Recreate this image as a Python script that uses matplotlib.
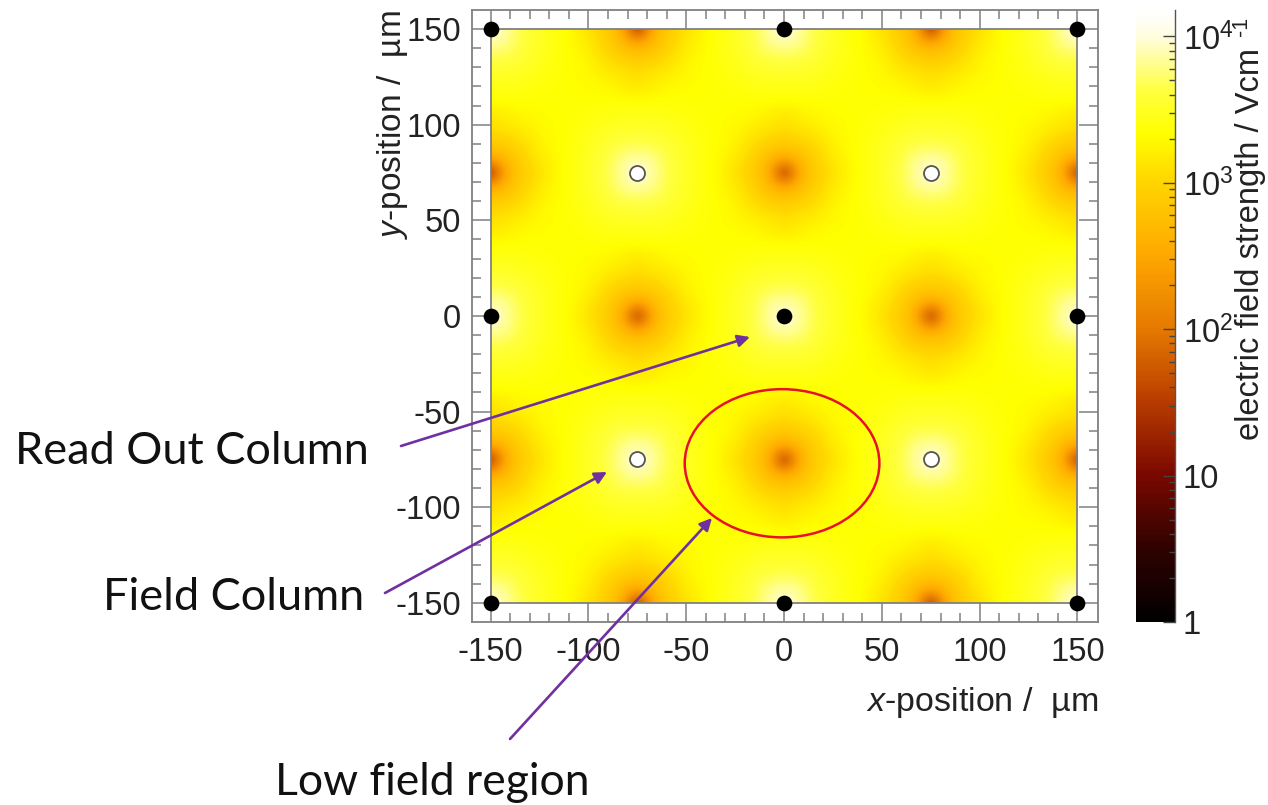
import numpy as np
import matplotlib
matplotlib.use("Agg")
import matplotlib.pyplot as plt
from matplotlib.colors import LinearSegmentedColormap, Normalize, LogNorm
from matplotlib.cm import ScalarMappable
from matplotlib.patches import Ellipse, Rectangle

W, H = 1268, 805

# log10(field strength) read on one unit cell, x and y = 0 ... 75 um
cell_step = 6.25
cell_log_field = [
    [4.00, 3.90, 3.72, 3.60, 3.50, 3.42, 3.35, 3.25, 3.10, 2.98, 2.80, 2.40, 1.25],
    [3.90, 3.85, 3.70, 3.58, 3.50, 3.42, 3.35, 3.27, 3.15, 3.02, 2.86, 2.60, 2.40],
    [3.72, 3.70, 3.65, 3.56, 3.48, 3.42, 3.36, 3.30, 3.22, 3.08, 2.96, 2.86, 2.80],
    [3.60, 3.58, 3.56, 3.50, 3.45, 3.40, 3.36, 3.32, 3.27, 3.16, 3.08, 3.02, 2.98],
    [3.50, 3.50, 3.48, 3.45, 3.42, 3.38, 3.35, 3.33, 3.30, 3.26, 3.20, 3.15, 3.10],
    [3.42, 3.42, 3.42, 3.40, 3.38, 3.36, 3.35, 3.34, 3.33, 3.31, 3.28, 3.22, 3.18],
    [3.35, 3.35, 3.36, 3.36, 3.35, 3.35, 3.35, 3.35, 3.35, 3.36, 3.36, 3.35, 3.35],
    [3.18, 3.22, 3.28, 3.31, 3.33, 3.34, 3.35, 3.36, 3.38, 3.40, 3.42, 3.42, 3.42],
    [3.10, 3.15, 3.20, 3.26, 3.30, 3.33, 3.35, 3.38, 3.42, 3.45, 3.48, 3.50, 3.50],
    [2.98, 3.02, 3.08, 3.16, 3.27, 3.32, 3.36, 3.40, 3.45, 3.50, 3.56, 3.58, 3.60],
    [2.80, 2.86, 2.96, 3.08, 3.22, 3.30, 3.36, 3.42, 3.48, 3.56, 3.65, 3.70, 3.72],
    [2.40, 2.60, 2.86, 3.02, 3.15, 3.27, 3.35, 3.42, 3.50, 3.58, 3.70, 3.85, 3.90],
    [1.25, 2.40, 2.80, 2.98, 3.10, 3.25, 3.35, 3.42, 3.50, 3.60, 3.72, 3.90, 4.00],
]
readout_x = [-150, 0, 150, -150, 0, 150, -150, 0, 150]
readout_y = [150, 150, 150, 0, 0, 0, -150, -150, -150]
field_x = [-75, 75, -75, 75]
field_y = [75, 75, -75, -75]
ticks = [-150, -100, -50, 0, 50, 100, 150]
cbar_ticks = [1, 10, 100, 1000, 10000]
cbar_labels = ["1", "10", r"$\mathdefault{10^{2}}$", r"$\mathdefault{10^{3}}$", r"$\mathdefault{10^{4}}$"]
log_max = 4.18

plt.rcParams["font.family"] = "Liberation Sans"
plt.rcParams["axes.unicode_minus"] = False
plt.rcParams["mathtext.fontset"] = "custom"
plt.rcParams["mathtext.rm"] = "Liberation Sans"
plt.rcParams["mathtext.it"] = "Liberation Sans:italic"
plt.rcParams["mathtext.default"] = "regular"

cmap = LinearSegmentedColormap.from_list("field", [
    (0.00, "#000000"), (0.12, "#300200"), (0.24, "#7a0800"), (0.36, "#b83c00"), (0.48, "#e57a00"),
    (0.60, "#ffa800"), (0.72, "#ffd500"), (0.80, "#ffff00"), (0.87, "#ffff40"),
    (0.96, "#fffde0"), (1.00, "#ffffff")])

cell = np.array(cell_log_field)
row = np.hstack([cell, cell[:, -2::-1]])          # 0..150 in x
tile = np.vstack([row, row[-2::-1]])              # 0..150 in y
full = np.vstack([tile[:-1], tile])               # -150..150 in y
full = np.hstack([full[:, :-1], full])            # -150..150 in x

fig = plt.figure(figsize=(W / 100, H / 100), dpi=100)
L, R, T, B = 472, 1098, 10, 622
ax = fig.add_axes([L / W, 1 - B / H, (R - L) / W, (B - T) / H])
gray = "#808080"
half = cell_step / 2
im = ax.imshow(full, origin="lower", extent=[-150 - half, 150 + half, -150 - half, 150 + half],
               cmap=cmap, norm=Normalize(0, log_max), interpolation="bicubic",
               interpolation_stage="data", aspect="auto", zorder=1)
box = Rectangle((-150, -150), 300, 300, fill=False, ec=gray, lw=1.3, zorder=2)
ax.add_patch(box)
im.set_clip_path(Rectangle((-150, -150), 300, 300, transform=ax.transData))
ax.set_xlim(-159.5, 160.5)
ax.set_ylim(-160, 160)

ax.set_xticks(ticks)
ax.set_yticks(ticks)
minor = [v for v in range(-150, 151, 10) if v % 50]
ax.set_xticks(minor, minor=True)
ax.set_yticks(minor, minor=True)
ax.tick_params(which="major", direction="in", length=13.5, width=1.1, color=gray, top=True, right=True,
               labelsize=23.5, labelcolor="#222222", pad=10)
ax.tick_params(axis="x", which="major", pad=11)
ax.tick_params(axis="y", which="major", pad=8)
ax.tick_params(which="minor", direction="in", length=6.5, width=1.1, color=gray, top=True, right=True)
for s in ax.spines.values():
    s.set_color(gray)
    s.set_linewidth(1.3)

ax.plot(readout_x, readout_y, "o", ms=11.3, color="black", mew=0, clip_on=False, zorder=4)
ax.plot(field_x, field_y, "o", ms=10.8, mfc="white", mec="#555555", mew=1.3, clip_on=False, zorder=4)
ax.add_patch(Ellipse((-1, -77), 99.5, 77.5, fill=False, ec="#e8102a", lw=1.8, zorder=5))

def fx(p):
    return p / W
def fy(p):
    return 1 - p / H

fig.text(fx(1098), fy(702), r"$\it{x}$-position /  µm", ha="right", va="center", fontsize=24.5, color="#222222")
fig.text(fx(393), fy(10), r"$\it{y}$-position /  µm", ha="center", va="top", rotation=90, fontsize=24, color="#222222")

# colour bar
cax = fig.add_axes([1136 / W, 1 - 622 / H, 39 / W, 612 / H])
sm = ScalarMappable(norm=LogNorm(1, 10 ** log_max), cmap=cmap)
cb = fig.colorbar(sm, cax=cax)
cb.outline.set_visible(False)
cax.set_yticks(cbar_ticks, cbar_labels)
cax.tick_params(which="major", direction="in", length=9, width=1.0, color="#444444", labelsize=23.5,
                labelcolor="#222222", pad=5.5)
cax.tick_params(which="minor", direction="in", length=4.5, width=1.0, color="#444444")
for s in cax.spines.values():
    s.set_visible(False)
fig.add_artist(plt.Line2D([fx(1175), fx(1175)], [fy(622), fy(10)], color="#555555", lw=1.0))
fig.text(fx(1250), fy(440), "electric field strength / Vcm", rotation=90, ha="center", va="bottom",
         fontsize=23.5, color="#222222")
fig.text(fx(1241), fy(36), "-1", rotation=90, ha="center", va="bottom", fontsize=15.5, color="#222222")

# annotations
purple = "#7030a0"
arrows = [((401, 446), (750, 337)), ((385, 593), (607, 472)), ((510, 739), (712, 518))]
for (x0, y0), (x1, y1) in arrows:
    ax.annotate("", xy=(fx(x1), fy(y1)), xytext=(fx(x0), fy(y0)), xycoords="figure fraction",
                textcoords="figure fraction", annotation_clip=False, zorder=6,
                arrowprops=dict(arrowstyle="-|>", color=purple, lw=1.9, mutation_scale=18, shrinkA=0, shrinkB=0))
fig.text(fx(15), fy(451), "Read Out Column", family="Lato", fontsize=32.5, color="#111111", ha="left", va="center")
fig.text(fx(103), fy(597), "Field Column", family="Lato", fontsize=32.5, color="#111111", ha="left", va="center")
fig.text(fx(275), fy(782), "Low field region", family="Lato", fontsize=32, color="#111111", ha="left", va="center")

fig.savefig("out.png", dpi=100)
